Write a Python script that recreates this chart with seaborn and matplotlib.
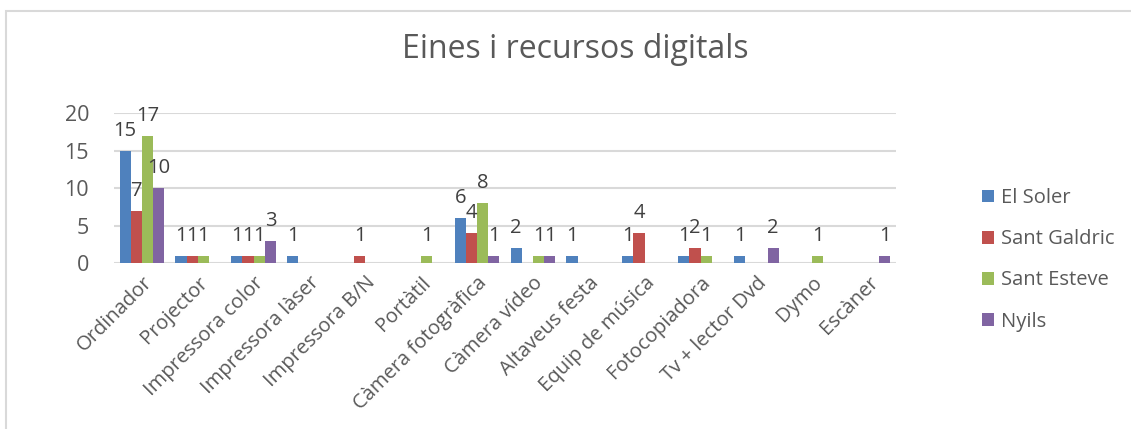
import numpy as np
import pandas as pd
import matplotlib
matplotlib.use("Agg")
import matplotlib.pyplot as plt
from matplotlib.patches import Rectangle
import seaborn as sns

categories = ["Ordinador", "Projector", "Impressora color", "Impressora làser",
              "Impressora B/N", "Portàtil", "Càmera fotogràfica", "Càmera vídeo",
              "Altaveus festa", "Equip de música", "Fotocopiadora",
              "Tv + lector Dvd", "Dymo", "Escàner"]
nan = np.nan
el_soler = [15, 1, 1, 1, nan, nan, 6, 2, 1, 1, 1, 1, nan, nan]
sant_galdric = [7, 1, 1, nan, 1, nan, 4, nan, nan, 4, 2, nan, nan, nan]
sant_esteve = [17, 1, 1, nan, nan, 1, 8, 1, nan, nan, 1, nan, 1, nan]
nyils = [10, nan, 3, nan, nan, nan, 1, 1, nan, nan, nan, 2, nan, 1]
series_names = ["El Soler", "Sant Galdric", "Sant Esteve", "Nyils"]
colors = ["#4F81BD", "#C0504D", "#9BBB59", "#8064A2"]
y_ticks = [0, 5, 10, 15, 20]

rows = []
for name, vals in zip(series_names, [el_soler, sant_galdric, sant_esteve, nyils]):
    for cat, v in zip(categories, vals):
        rows.append({"Eina": cat, "Escola": name, "Nombre": v})
df = pd.DataFrame(rows)

sns.set_style("white")
plt.rcParams["font.family"] = ["Open Sans", "DejaVu Sans"]

W, H = 1131, 429
fig = plt.figure(figsize=(W / 100, H / 100), dpi=100)
fig.patch.set_facecolor("white")

# outer chart frame
fig.patches.append(Rectangle((6 / W, -0.1), 1.2, (H - 11) / H + 0.1,
                             transform=fig.transFigure, fill=False,
                             edgecolor="#D9D9D9", linewidth=1.5))

left, right, bottom, top = 114, 896, 263, 113
ax = fig.add_axes([left / W, 1 - bottom / H, (right - left) / W, (bottom - top) / H])

sns.barplot(data=df, x="Eina", y="Nombre", hue="Escola", order=categories,
            hue_order=series_names, palette=colors, width=0.8, ax=ax,
            dodge=True, saturation=1, edgecolor="none", legend=True)

for cont in ax.containers:
    ax.bar_label(cont, fmt="%g", fontsize=14.5, color="#404040", padding=7,
                 clip_on=False)

ax.set_xlim(-0.5, len(categories) - 0.5)
ax.set_ylim(0, 20)
ax.set_yticks(y_ticks)
ax.set_yticklabels([str(t) for t in y_ticks], fontsize=15.5, color="#595959")
ax.grid(axis="y", color="#D9D9D9", linewidth=1.5)
ax.set_axisbelow(True)
for s in ax.spines.values():
    s.set_visible(False)
ax.tick_params(axis="both", length=0)
ax.tick_params(axis="y", pad=18)
ax.set_xlabel("")
ax.set_ylabel("")
ax.set_xticks(range(len(categories)))
ax.set_xticklabels(categories, rotation=45, ha="right", rotation_mode="anchor",
                   fontsize=14.5, color="#595959")
ax.tick_params(axis="x", pad=7)

handles, labels = ax.get_legend_handles_labels()
ax.legend(handles, labels, loc="upper left", bbox_to_anchor=(964 / W, 1 - 170 / H),
          bbox_transform=fig.transFigure, frameon=False, fontsize=14.5,
          labelcolor="#595959", handlelength=0.6, handleheight=0.6,
          handletextpad=0.35, labelspacing=1.05)

fig.text(575 / W, 1 - 50 / H, "Eines i recursos digitals", ha="center",
         va="center", fontsize=23, color="#595959")

fig.savefig("out.png", dpi=100)
